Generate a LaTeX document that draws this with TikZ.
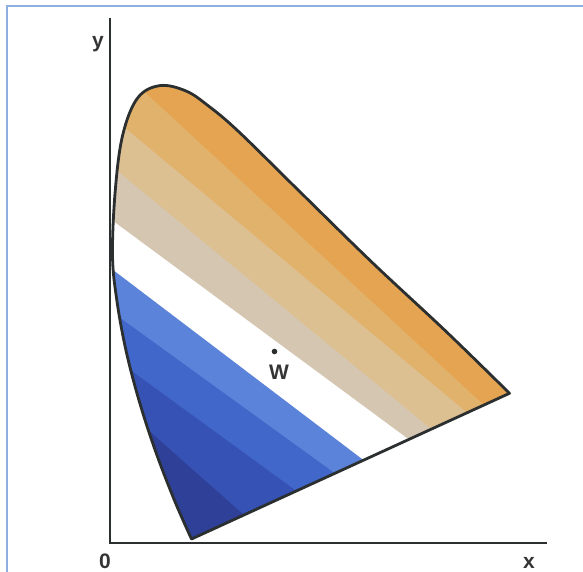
\documentclass[tikz,border=0pt]{standalone}
\usepackage{fontspec}
\setmainfont{Liberation Sans}
\usetikzlibrary{calc}

\definecolor{frameblue}{HTML}{8EAEE0}
\definecolor{edgegray}{HTML}{2B2F30}
\definecolor{labelgray}{HTML}{353535}
\definecolor{orangeA}{HTML}{E5A452}
\definecolor{orangeB}{HTML}{E1B26C}
\definecolor{orangeC}{HTML}{DCC092}
\definecolor{tangray}{HTML}{D5C6B1}
\definecolor{blueA}{HTML}{5B83D9}
\definecolor{blueB}{HTML}{4167CA}
\definecolor{blueC}{HTML}{3652B4}
\definecolor{blueD}{HTML}{2F4099}

% spectral locus and purple line
\newcommand\shoepath{plot[smooth, tension=0.6] coordinates {
  (191.5,539) (174.3,500) (155.1,450) (138.9,400) (125.9,350) (116.8,300)
  (112.5,255) (115.3,190) (122.7,135) (137.6,98) (160,85.6) (186,91)
  (208,105.6) (238,131) (297.5,189.4) (371.9,262.2) (446,331.4)
  (509.5,393.3)} -- cycle}

\begin{document}
\begin{tikzpicture}[x=1pt, y=-1pt,
  axisline/.style={line width=2.2pt, draw=edgegray},
  outline/.style={line width=2.8pt, draw=edgegray, line join=round},
  axislabel/.style={font=\fontsize{21}{24}\selectfont\bfseries, text=labelgray, inner sep=0pt, anchor=base}
]
\useasboundingbox (0,0) rectangle (583,571);

% frame
\draw[frameblue, line width=1.6pt] (7,580) -- (7,6) -- (590,6);

% colour bands
\begin{scope}
  \clip \shoepath;
  \fill[orangeA] (0,0) rectangle (583,571);
  \foreach \lx/\ly/\rx/\ry/\col in {
      150/97/487/408/orangeB,
      125/128/465/411/orangeC,
      116/170/431/429/tangray,
      117/224/405.4/437/white,
      117/273/360.7/458/blueA,
      123/320/333/472/blueB,
      133/372/295/490/blueC,
      148/430/245/516/blueD}
    \fill[\col] ($(\lx,\ly)!-0.5!(\rx,\ry)$) -- ($(\lx,\ly)!1.5!(\rx,\ry)$)
      -- (700,700) -- (-100,700) -- cycle;
\end{scope}
\draw[outline] \shoepath;

% axes
\coordinate (ytop) at (110,18);
\coordinate (orig) at (110,543);
\coordinate (xend) at (547,543);
\draw[axisline] (ytop) -- (orig) -- (xend);

\node[axislabel] (ylabel) at (98,47) {y};
\node[axislabel] (xlabel) at (529,568) {x};
\node[axislabel] (zero) at (105,568) {0};

% white point
\coordinate (wpt) at (274.5,351.5);
\fill[edgegray] (wpt) circle (2.8);
\node[axislabel] (wlabel) at (279,379) {W};
\end{tikzpicture}
\end{document}
